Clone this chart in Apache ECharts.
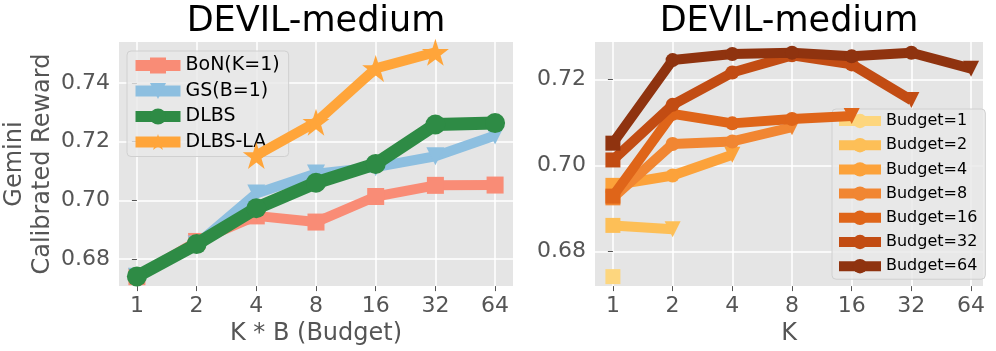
<!DOCTYPE html>
<html>
<head>
<meta charset="utf-8">
<script src="https://cdn.jsdelivr.net/npm/echarts@6/dist/echarts.min.js"></script>
<style>html,body{margin:0;padding:0;background:#fff;}#c{width:996px;height:351px;}</style>
</head>
<body>
<div id="c"></div>
<script>
// ---- data ----
const kValues = [1, 2, 4, 8, 16, 32, 64];
const xTickLabels = ['1', '2', '4', '8', '16', '32', '64'];
const leftYTicks = [0.68, 0.70, 0.72, 0.74];
const rightYTicks = [0.68, 0.70, 0.72];

const leftNames = ['BoN(K=1)', 'GS(B=1)', 'DLBS', 'DLBS-LA'];
const bonValues    = [0.6740, 0.6860, 0.6947, 0.6926, 0.7013, 0.7051, 0.7052];
const gsValues     = [0.6740, 0.6850, 0.7023, 0.7091, 0.7113, 0.7150, 0.7221];
const dlbsValues   = [0.6741, 0.6851, 0.6973, 0.7060, 0.7124, 0.7258, 0.7263];
const dlbsLaValues = [null, null, 0.7153, 0.7266, 0.7449, 0.7504, null];

const budgetNames = ['Budget=1', 'Budget=2', 'Budget=4', 'Budget=8', 'Budget=16', 'Budget=32', 'Budget=64'];
const budget1  = [0.6742];
const budget2  = [0.6861, 0.6852];
const budget4  = [0.6954, 0.6977, 0.7025];
const budget8  = [0.6925, 0.7050, 0.7056, 0.7089];
const budget16 = [0.6929, 0.7120, 0.7098, 0.7108, 0.7115];
const budget32 = [0.7013, 0.7141, 0.7216, 0.7256, 0.7235, 0.7152];
const budget64 = [0.7052, 0.7245, 0.7259, 0.7262, 0.7254, 0.7262, 0.7225];

// ---- styling ----
const FONT = 'DejaVu Sans';
const leftColors = ['#f98c76', '#8dbfe0', '#2e8b45', '#ffa53a'];
const budgetColors = ['#fdd67e', '#fdbf57', '#fca23a', '#f18632', '#df6519', '#c24c13', '#8f330f'];
const STAR = 'path://M50,0 L61.2,34.5 L97.6,34.5 L68.2,55.9 L79.4,90.5 L50,69.1 L20.6,90.5 L31.8,55.9 L2.4,34.5 L38.8,34.5 Z';

function xIndexFor(k) { return kValues.indexOf(k); }

function pairs(values) {
  const out = [];
  values.forEach((v, i) => { if (v !== null) out.push([xIndexFor(kValues[i]), v]); });
  return out;
}

function xAxisCfg(gridIndex, name, maxV) {
  return {
    type: 'value', gridIndex: gridIndex, min: -0.3, max: maxV,
    name: name, nameLocation: 'middle', nameGap: 32,
    nameTextStyle: { fontSize: 24, color: '#555', fontFamily: FONT },
    axisLine: { show: false },
    axisTick: { show: true, length: 5, lineStyle: { color: '#555', width: 1 }, customValues: kValues.map(xIndexFor) },
    axisLabel: { fontSize: 22, color: '#555', fontFamily: FONT, margin: 9,
      customValues: kValues.map(xIndexFor), formatter: v => xTickLabels[Math.round(v)] },
    splitLine: { show: true, lineStyle: { color: '#ffffff', width: 1.5 } }
  };
}
function yAxisCfg(gridIndex, minV, maxV, ticks, name) {
  return {
    type: 'value', gridIndex: gridIndex, min: minV, max: maxV,
    name: name || '', nameLocation: 'middle', nameGap: 60, nameRotate: 90,
    nameTextStyle: { fontSize: 24, color: '#555', fontFamily: FONT, lineHeight: 28 },
    axisLine: { show: false },
    axisTick: { show: true, length: 5, lineStyle: { color: '#555', width: 1 }, customValues: ticks },
    axisLabel: { fontSize: 22, color: '#555', fontFamily: FONT, margin: 9,
      customValues: ticks, formatter: v => v.toFixed(2) },
    splitLine: { show: true, lineStyle: { color: '#ffffff', width: 1.5 } }
  };
}

// left series
const leftSymbols = ['rect', 'triangle', 'circle', STAR];
const leftRotate = [0, 180, 0, 0];
const leftSizes = [17, 18, 20, 27];
const leftWidths = [10, 10, 13, 10];
const leftData = [bonValues, gsValues, dlbsValues, dlbsLaValues];
const series = [];
leftData.forEach((vals, s) => {
  series.push({
    type: 'line', name: leftNames[s], xAxisIndex: 0, yAxisIndex: 0,
    data: pairs(vals), symbol: leftSymbols[s], symbolRotate: leftRotate[s], symbolSize: leftSizes[s],
    lineStyle: { color: leftColors[s], width: leftWidths[s] },
    itemStyle: { color: leftColors[s] }, z: 2 + s, animation: false
  });
});

// right series
const budgetData = [budget1, budget2, budget4, budget8, budget16, budget32, budget64];
budgetData.forEach((vals, s) => {
  const last = vals.length - 1;
  const data = vals.map((v, i) => {
    const item = { value: [i, v] };
    if (i === 0) { item.symbol = 'rect'; item.symbolSize = 15; }
    else if (i === last) { item.symbol = 'triangle'; item.symbolRotate = 180; item.symbolSize = 16; }
    return item;
  });
  series.push({
    type: 'line', name: budgetNames[s], xAxisIndex: 1, yAxisIndex: 1,
    data: data, symbol: 'circle', symbolSize: 14,
    lineStyle: { color: budgetColors[s], width: 10 },
    itemStyle: { color: budgetColors[s] }, z: 2 + s, animation: false
  });
});

const option = {
  animation: false,
  backgroundColor: '#ffffff',
  graphic: [
    { type: 'text', x: 316, y: 22, style: { text: 'DEVIL-medium', align: 'center', verticalAlign: 'middle', fontSize: 35, fontFamily: FONT, fill: '#000' } },
    { type: 'text', x: 789, y: 22, style: { text: 'DEVIL-medium', align: 'center', verticalAlign: 'middle', fontSize: 35, fontFamily: FONT, fill: '#000' } }
  ],
  grid: [
    { left: 119, top: 42, width: 394, height: 245, show: true, backgroundColor: '#e5e5e5', borderWidth: 0 },
    { left: 595, top: 42, width: 388, height: 245, show: true, backgroundColor: '#e5e5e5', borderWidth: 0 }
  ],
  xAxis: [ xAxisCfg(0, 'K * B (Budget)', 6.3), xAxisCfg(1, 'K', 6.2) ],
  yAxis: [
    yAxisCfg(0, 0.6708, 0.7539, leftYTicks, 'Gemini\nCalibrated Reward'),
    yAxisCfg(1, 0.6720, 0.7287, rightYTicks, '')
  ],
  legend: [
    {
      data: leftNames, orient: 'vertical', left: 127, top: 51,
      itemWidth: 45, itemHeight: 20, itemGap: 6.5, padding: [5, 9, 5, 3],
      textStyle: { fontSize: 19, color: '#000', fontFamily: FONT },
      backgroundColor: 'rgba(232,232,232,0.8)', borderColor: '#d0d0d0', borderWidth: 1, borderRadius: 4,
      lineStyle: { width: 11 }
    },
    {
      data: budgetNames, orient: 'vertical', left: 832, top: 109,
      itemWidth: 42, itemHeight: 18, itemGap: 8.2, padding: [4, 8, 5, 2],
      textStyle: { fontSize: 16, color: '#000', fontFamily: FONT },
      backgroundColor: 'rgba(232,232,232,0.8)', borderColor: '#d0d0d0', borderWidth: 1, borderRadius: 4,
      lineStyle: { width: 10 }
    }
  ],
  series: series
};

const chart = echarts.init(document.getElementById('c'), null, { renderer: 'canvas' });
chart.setOption(option);
</script>
</body>
</html>
